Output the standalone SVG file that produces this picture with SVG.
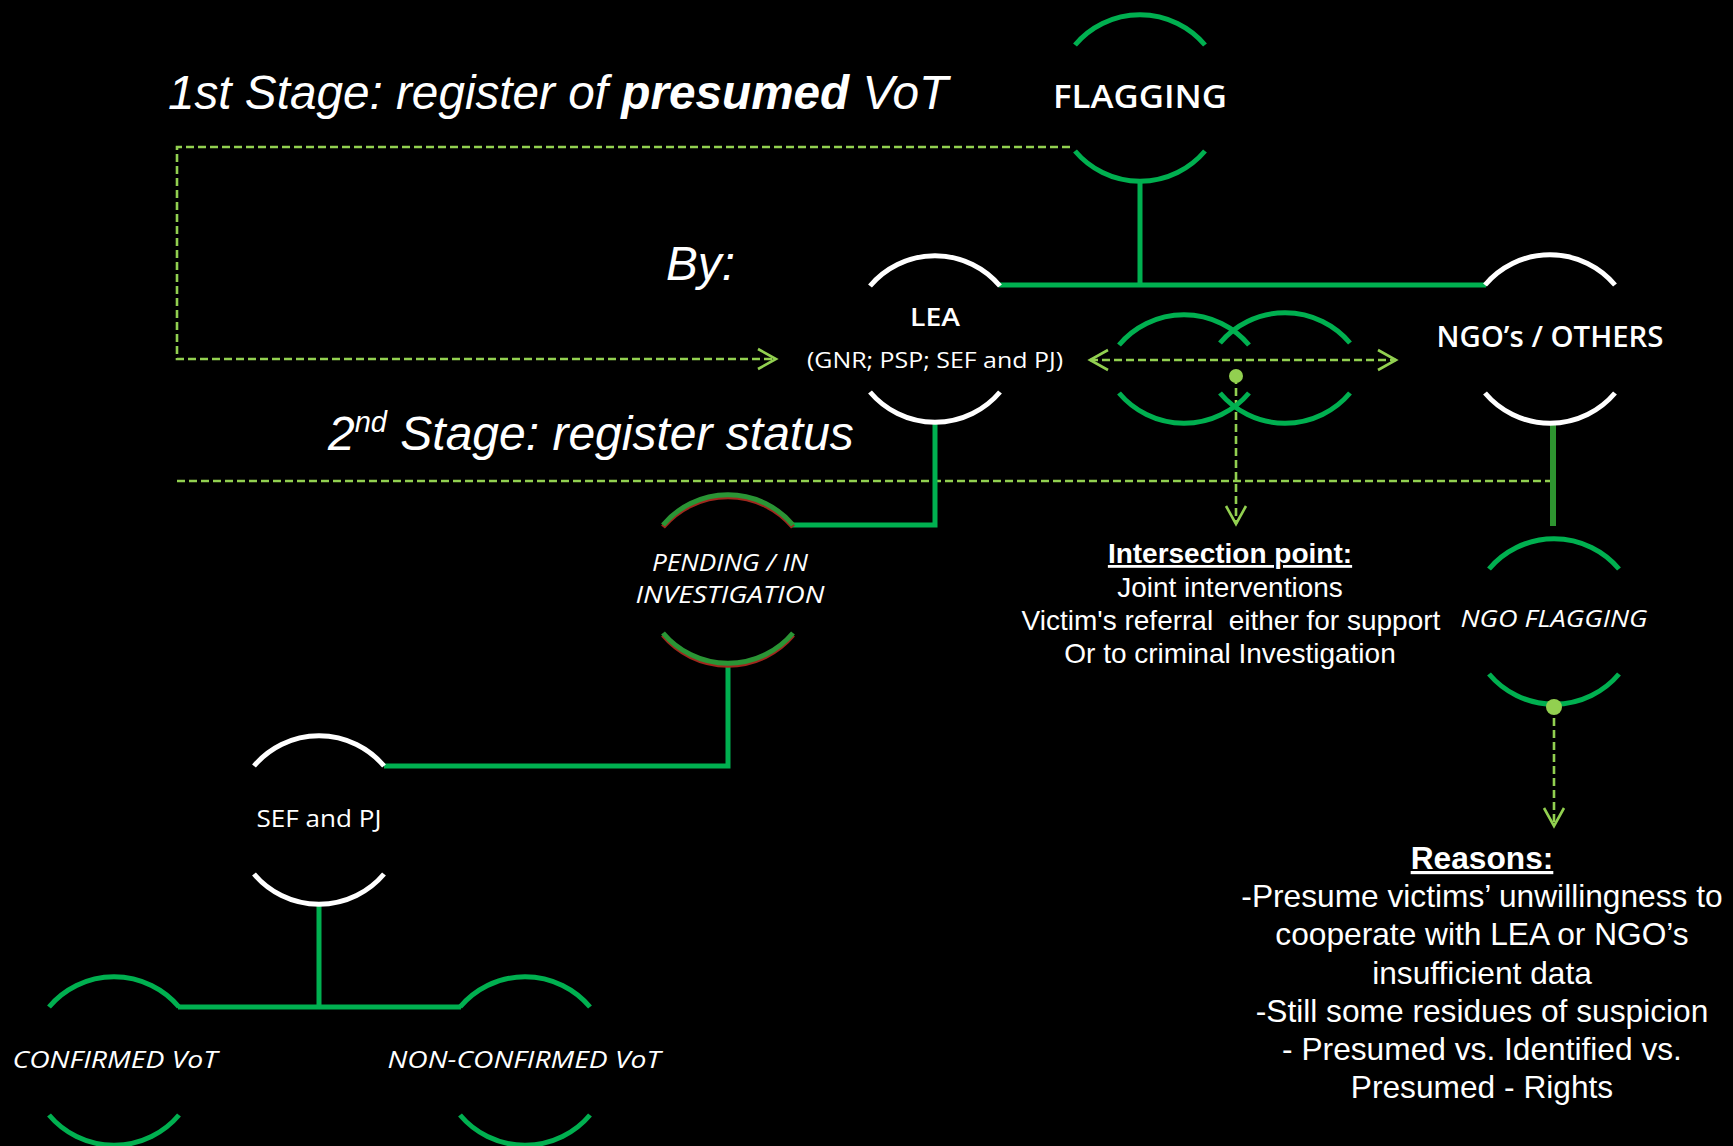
<svg xmlns="http://www.w3.org/2000/svg" width="1733" height="1146" viewBox="0 0 1733 1146">
<defs>
<style>
.arcg{fill:none;stroke:#00b050;stroke-width:5}
.arcw{fill:none;stroke:#ffffff;stroke-width:5}
.arcp{fill:none;stroke:#2a9535;stroke-width:5}
.arcr{fill:none;stroke:#a0281e;stroke-width:5}
.con{fill:none;stroke:#00b050;stroke-width:5}
.con2{fill:none;stroke:#2e9430;stroke-width:6}
.dash{fill:none;stroke:#92d050;stroke-width:2.6;stroke-dasharray:8 4}
.dot{fill:#92d050}
.ar{font-family:"Liberation Sans",Arial,sans-serif;fill:#ffffff}
.os{font-family:"Open Sans","Noto Sans",sans-serif;fill:#ffffff}
</style>
<marker id="ah" viewBox="-20 -12 24 24" refX="0" refY="0" markerWidth="24" markerHeight="24" markerUnits="userSpaceOnUse" orient="auto-start-reverse">
<path d="M -18 -10 L 0 0 L -18 10" fill="none" stroke="#92d050" stroke-width="2.6"/>
</marker>
</defs>
<rect x="0" y="0" width="1733" height="1146" fill="#000000"/>

<g id="titles">
<text class="ar" x="168" y="109" font-size="47.7" font-style="italic">1st Stage: register of <tspan font-weight="bold">presumed</tspan> VoT</text>
<text class="ar" x="666" y="280" font-size="47.7" font-style="italic">By:</text>
<text class="ar" x="328" y="450" font-size="48" font-style="italic">2<tspan font-size="29" dy="-18">nd</tspan><tspan dy="18"> Stage: register status</tspan></text>
</g>

<g id="connectors">
<path class="dash" d="M 1070 147 H 177 V 359 H 776" marker-end="url(#ah)"/>
<path class="dash" d="M 177 481 H 1553"/>
<path class="dash" d="M 1090 360 H 1396" marker-start="url(#ah)" marker-end="url(#ah)"/>
<path class="dash" d="M 1236 376 V 524" marker-end="url(#ah)"/>
<path class="dash" d="M 1554 706 V 826" marker-end="url(#ah)"/>
<path class="con" d="M 1140 181 V 285"/>
<path class="con" d="M 999 285 H 1486"/>
<path class="con2" d="M 1553 424 V 526"/>
<path class="con" d="M 935 422 V 525 H 792"/>
<path class="con" d="M 728 663 V 766 H 384"/>
<path class="con" d="M 319 904 V 1007"/>
<path class="con" d="M 178 1007 H 461"/>
</g>

<g id="flagging">
<path class="arcg" d="M 1075 45 A 85 85 0 0 1 1205 45"/>
<path class="arcg" d="M 1075 151 A 85 85 0 0 0 1205 151"/>
<text class="os" x="1140" y="108" font-size="33" font-weight="600" text-anchor="middle" textLength="174" lengthAdjust="spacingAndGlyphs">FLAGGING</text>
</g>

<g id="lea">
<path class="arcw" d="M 870 286 A 85 85 0 0 1 1000 286"/>
<path class="arcw" d="M 870 392 A 85 85 0 0 0 1000 392"/>
<text class="os" x="935" y="326" font-size="26" font-weight="600" text-anchor="middle" textLength="50" lengthAdjust="spacingAndGlyphs">LEA</text>
<text class="os" x="935" y="368" font-size="22" text-anchor="middle" textLength="256" lengthAdjust="spacingAndGlyphs">(GNR; PSP; SEF and PJ)</text>
</g>

<g id="ngo-others">
<path class="arcw" d="M 1485 285 A 85 85 0 0 1 1615 285"/>
<path class="arcw" d="M 1485 393 A 85 85 0 0 0 1615 393"/>
<text class="os" x="1550" y="347" font-size="28" font-weight="600" text-anchor="middle" textLength="227" lengthAdjust="spacingAndGlyphs">NGO’s / OTHERS</text>
</g>

<g id="intersection">
<path class="arcg" d="M 1119 345 A 85 85 0 0 1 1249 345"/>
<path class="arcg" d="M 1119 393 A 85 85 0 0 0 1249 393"/>
<path class="arcg" d="M 1220 343 A 85 85 0 0 1 1350 343"/>
<path class="arcg" d="M 1220 393 A 85 85 0 0 0 1350 393"/>
</g>

<g id="intersection-text">
<text class="ar" x="1230" y="563" font-size="28" font-weight="bold" text-anchor="middle" text-decoration="underline">Intersection point:</text>
<text class="ar" x="1230" y="597" font-size="28" text-anchor="middle">Joint interventions</text>
<text class="ar" x="1231" y="630" font-size="28" text-anchor="middle" style="white-space:pre">Victim's referral  either for support</text>
<text class="ar" x="1230" y="663" font-size="28" text-anchor="middle">Or to criminal Investigation</text>
</g>

<g id="pending">
<path class="arcr" d="M 663 527 A 85 85 0 0 1 793 527"/>
<path class="arcp" d="M 663 525 A 85 85 0 0 1 793 525"/>
<path class="arcr" d="M 663 635 A 85 85 0 0 0 793 635"/>
<path class="arcp" d="M 663 633 A 85 85 0 0 0 793 633"/>
<text class="os" x="730" y="571" font-size="24" font-style="italic" text-anchor="middle" textLength="156" lengthAdjust="spacingAndGlyphs">PENDING / IN</text>
<text class="os" x="730" y="603" font-size="24" font-style="italic" text-anchor="middle" textLength="189" lengthAdjust="spacingAndGlyphs">INVESTIGATION</text>
</g>

<g id="ngo-flagging">
<path class="arcg" d="M 1489 569 A 85 85 0 0 1 1619 569"/>
<path class="arcg" d="M 1489 674 A 85 85 0 0 0 1619 674"/>
<text class="os" x="1554" y="627" font-size="24" font-style="italic" text-anchor="middle" textLength="187" lengthAdjust="spacingAndGlyphs">NGO FLAGGING</text>
</g>

<g id="reasons">
<text class="ar" x="1482" y="869" font-size="31.7" font-weight="bold" text-anchor="middle" text-decoration="underline">Reasons:</text>
<text class="ar" x="1482" y="907" font-size="31.7" text-anchor="middle">-Presume victims’ unwillingness to</text>
<text class="ar" x="1482" y="945" font-size="31.7" text-anchor="middle">cooperate with LEA or NGO’s</text>
<text class="ar" x="1482" y="984" font-size="31.7" text-anchor="middle">insufficient data</text>
<text class="ar" x="1482" y="1022" font-size="31.7" text-anchor="middle">-Still some residues of suspicion</text>
<text class="ar" x="1482" y="1060" font-size="31.7" text-anchor="middle">- Presumed vs. Identified vs.</text>
<text class="ar" x="1482" y="1098" font-size="31.7" text-anchor="middle">Presumed - Rights</text>
</g>

<g id="sef-pj">
<path class="arcw" d="M 254 766 A 85 85 0 0 1 384 766"/>
<path class="arcw" d="M 254 874 A 85 85 0 0 0 384 874"/>
<text class="os" x="319" y="827" font-size="24" text-anchor="middle" textLength="125" lengthAdjust="spacingAndGlyphs">SEF and PJ</text>
</g>

<g id="confirmed">
<path class="arcg" d="M 49 1007 A 85 85 0 0 1 179 1007"/>
<path class="arcg" d="M 49 1115 A 85 85 0 0 0 179 1115"/>
<text class="os" x="115" y="1068" font-size="24" font-style="italic" text-anchor="middle" textLength="205" lengthAdjust="spacingAndGlyphs">CONFIRMED VoT</text>
</g>

<g id="non-confirmed">
<path class="arcg" d="M 460 1007 A 85 85 0 0 1 590 1007"/>
<path class="arcg" d="M 460 1115 A 85 85 0 0 0 590 1115"/>
<text class="os" x="524" y="1068" font-size="24" font-style="italic" text-anchor="middle" textLength="273" lengthAdjust="spacingAndGlyphs">NON-CONFIRMED VoT</text>
</g>

<g id="connector-dots">
<circle class="dot" cx="1236" cy="376" r="7"/>
<circle class="dot" cx="1554" cy="707" r="8"/>
</g>
</svg>
